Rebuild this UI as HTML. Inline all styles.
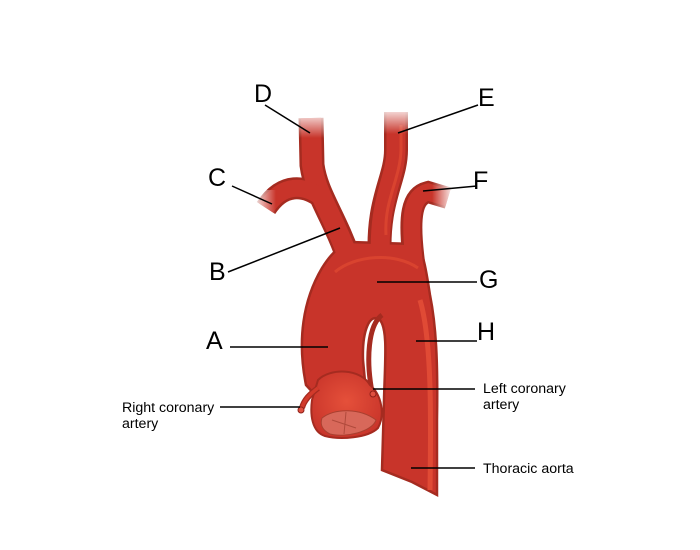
<!DOCTYPE html>
<html><head><meta charset="utf-8"><style>
html,body{margin:0;padding:0;background:#fff;}
svg{display:block;}
</style></head><body>
<svg width="700" height="550" viewBox="0 0 700 550" xmlns="http://www.w3.org/2000/svg">
<defs>
<linearGradient id="fv" x1="0" y1="0" x2="0" y2="1"><stop offset="0" stop-color="#fff" stop-opacity="1"/><stop offset="1" stop-color="#fff" stop-opacity="0"/></linearGradient>
<linearGradient id="fl" x1="0" y1="0" x2="1" y2="0"><stop offset="0" stop-color="#fff" stop-opacity="1"/><stop offset="1" stop-color="#fff" stop-opacity="0"/></linearGradient>
<linearGradient id="fr" x1="1" y1="0" x2="0" y2="0"><stop offset="0" stop-color="#fff" stop-opacity="1"/><stop offset="1" stop-color="#fff" stop-opacity="0"/></linearGradient>
<radialGradient id="bulb" cx="0.5" cy="0.45" r="0.6"><stop offset="0" stop-color="#e5503a"/><stop offset="1" stop-color="#c8342a"/></radialGradient>
</defs>
<g fill="none" stroke-linecap="butt" stroke="#a52b20">
<path d="M350,262 C334,215 316,195 312,165 L311,118" stroke-width="25"/>
<path d="M322,198 C305,185 283,182 266,208" stroke-width="22"/>
<path d="M380,262 C376,200 396,180 396,150 L396,112" stroke-width="24"/>
<path d="M414,262 C408,215 412,196 428,192 L448,198" stroke-width="22"/>
</g>
<path d="M306,385 C297,340 303,300 322,268 C332,252 340,246 350,242 L415,244 C424,252 426,270 430,295 C436,325 438,360 437,420 L437,495 L412,482 L382,470 L384,400 C385,360 388,330 380,320 C370,312 362,330 363,360 L366,392 L318,398 Z" fill="#c8342a" stroke="#a52b20" stroke-width="2.5"/>
<g fill="none" stroke="#c8342a" stroke-linecap="butt">
<path d="M352,268 C334,215 316,195 312,165 L311,118" stroke-width="20"/>
<path d="M322,198 C305,185 283,182 266,208" stroke-width="17"/>
<path d="M381,268 C376,200 396,180 396,150 L396,112" stroke-width="19"/>
<path d="M415,268 C408,215 412,196 428,192 L448,198" stroke-width="17"/>
</g>
<path d="M386,235 C384,200 400,180 401,150 L401,125" stroke="#d9432f" stroke-width="3" fill="none"/>
<rect x="290" y="110" width="45" height="28" fill="url(#fv)"/>
<rect x="375" y="106" width="45" height="28" fill="url(#fv)"/>
<rect x="252" y="190" width="24" height="30" fill="url(#fl)"/>
<rect x="432" y="180" width="22" height="30" fill="url(#fr)"/>
<path d="M420,300 C432,340 431,420 430,490" stroke="#e04a35" stroke-width="5" fill="none"/>
<path d="M372,392 C366,360 368,325 382,315" stroke="#a52b20" stroke-width="5" fill="none"/>
<path d="M335,272 C355,255 395,252 418,268" stroke="#d9432f" stroke-width="3" fill="none"/>
<path d="M318,380 C330,368 360,368 370,385 C382,395 385,415 378,428 C368,438 340,440 325,436 C312,432 310,415 312,400 Z" fill="url(#bulb)" stroke="#a52b20" stroke-width="2"/>
<path d="M322,418 C335,408 360,408 376,420 C372,432 345,438 330,434 C322,430 320,424 322,418 Z" fill="#d8685a" stroke="#a94030" stroke-width="1"/>
<path d="M346,412 L344,434 M332,420 L356,428" stroke="#b04a3c" stroke-width="1"/>
<path d="M318,388 C310,394 304,400 302,408" stroke="#a52b20" stroke-width="6" fill="none"/>
<path d="M318,388 C310,394 304,400 302,408" stroke="#d23a2b" stroke-width="3.5" fill="none"/>
<circle cx="301" cy="410" r="3" fill="#e05040" stroke="#8f2018" stroke-width="1"/>
<circle cx="373" cy="394" r="3" fill="#e05040" stroke="#8f2018" stroke-width="1"/>
<g stroke="#000" stroke-width="1.5">
<line x1="265" y1="105" x2="310" y2="133"/>
<line x1="478" y1="105" x2="398" y2="133"/>
<line x1="232" y1="186" x2="272" y2="204"/>
<line x1="477" y1="186" x2="423" y2="191"/>
<line x1="228" y1="272" x2="340" y2="228"/>
<line x1="477" y1="282" x2="377" y2="282"/>
<line x1="230" y1="347" x2="328" y2="347"/>
<line x1="477" y1="341" x2="416" y2="341"/>
<line x1="220" y1="407" x2="300" y2="407"/>
<line x1="373" y1="389" x2="475" y2="389"/>
<line x1="411" y1="468" x2="475" y2="468"/>
</g>
<g font-family="Liberation Sans, sans-serif" fill="#000">
<g font-size="25">
<text x="254" y="102">D</text>
<text x="478" y="106">E</text>
<text x="208" y="186">C</text>
<text x="473" y="189">F</text>
<text x="209" y="280">B</text>
<text x="479" y="288">G</text>
<text x="206" y="349">A</text>
<text x="477" y="340">H</text>
</g>
<g font-size="14.2">
<text x="122" y="412">Right coronary</text>
<text x="122" y="428">artery</text>
<text x="483" y="393">Left coronary</text>
<text x="483" y="409">artery</text>
<text x="483" y="473">Thoracic aorta</text>
</g>
</g>
</svg>
</body></html>
